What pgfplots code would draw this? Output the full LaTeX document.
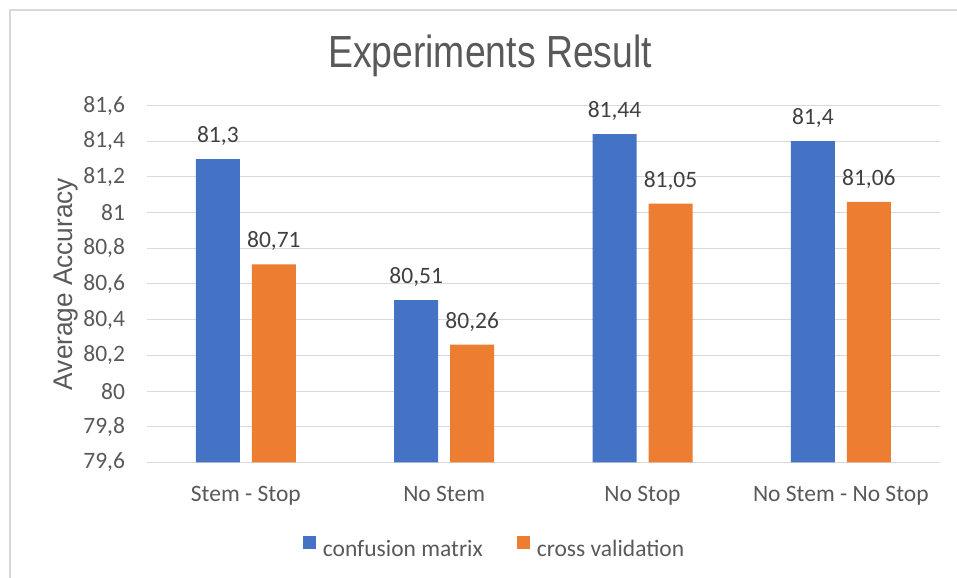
\documentclass[border=0pt]{standalone}
\usepackage{fontspec}
\setmainfont{Carlito}
\newfontfamily\titlefont[FakeStretch=0.83]{Liberation Sans}
\newfontfamily\ylabfont[FakeStretch=0.97]{Liberation Sans}
\usepackage{pgfplots}
\pgfplotsset{compat=1.18}
\definecolor{cblue}{HTML}{4472C4}
\definecolor{corange}{HTML}{ED7D31}
\definecolor{gridc}{HTML}{D9D9D9}
\definecolor{txt}{HTML}{595959}
\definecolor{lbl}{HTML}{404040}
\begin{document}
\begin{tikzpicture}
\path[use as bounding box] (0,0) rectangle (957bp,578bp);
\draw[gridc, line width=1.3bp] (10bp,0) -- (10bp,568bp) -- (957bp,568bp);
\begin{axis}[
  at={(146.7bp,115.5bp)}, anchor=south west,
  scale only axis, width=793.3bp, height=357bp,
  ybar=12bp, bar width=44bp,
  xmin=-0.5, xmax=3.5, ymin=79.6, ymax=81.6,
  xtick={0,1,2,3},
  xticklabels={Stem - Stop, No Stem, No Stop, No Stem - No Stop},
  ytick={79.6,79.8,80,80.2,80.4,80.6,80.8,81,81.2,81.4,81.6},
  /pgf/number format/.cd, use comma, 1000 sep={}, assume math mode=true,
  /pgfplots/.cd,
  yticklabel style={/pgf/number format/precision=1},
  axis x line*=bottom, axis y line*=left,
  y axis line style={draw=none},
  x axis line style={gridc, line width=1.3bp},
  major tick length=0pt,
  ymajorgrids, major grid style={gridc, line width=1bp},
  tick label style={font=\fontsize{23.5bp}{28bp}\selectfont, text=txt},
  yticklabel style={anchor=east, inner sep=0pt, xshift=-21.5bp},
  xticklabel style={anchor=base, inner sep=0pt, yshift=-39bp},
  title={Experiments Result},
  title style={at={(axis description cs:0.5,1)}, anchor=base, xshift=-53.3bp, yshift=32.5bp, inner sep=0pt,
    font=\titlefont\fontsize{45bp}{52bp}\selectfont, text=txt},
  ylabel={Average Accuracy},
  every axis y label/.style={at={(axis description cs:0,0.5)}, xshift=-74.7bp, rotate=90, anchor=base, inner sep=0pt,
    font=\ylabfont\fontsize{27bp}{32bp}\selectfont, text=txt},
  nodes near coords,
  every node near coord/.append style={anchor=base, inner sep=0pt, yshift=16.5bp,
    font=\fontsize{23.5bp}{28bp}\selectfont, text=lbl},
  clip=false,
  legend columns=2,
  legend style={at={(axis description cs:0.4372,-0.2367)}, anchor=center, draw=none, fill=none, inner sep=0pt,
    /tikz/every even column/.append style={column sep=34bp},
    nodes={inner sep=0pt, font=\fontsize{23.5bp}{28bp}\selectfont, text=txt}},
  legend image code/.code={\fill[#1] (0bp,-0.5bp) rectangle (13bp,12.5bp); \path (20bp,0bp);},
]
\addplot[fill=cblue, draw=none] coordinates {(0,81.3) (1,80.51) (2,81.44) (3,81.4)};
\addplot[fill=corange, draw=none] coordinates {(0,80.71) (1,80.26) (2,81.05) (3,81.06)};
\legend{confusion matrix, cross validation}
\end{axis}
\end{tikzpicture}
\end{document}
